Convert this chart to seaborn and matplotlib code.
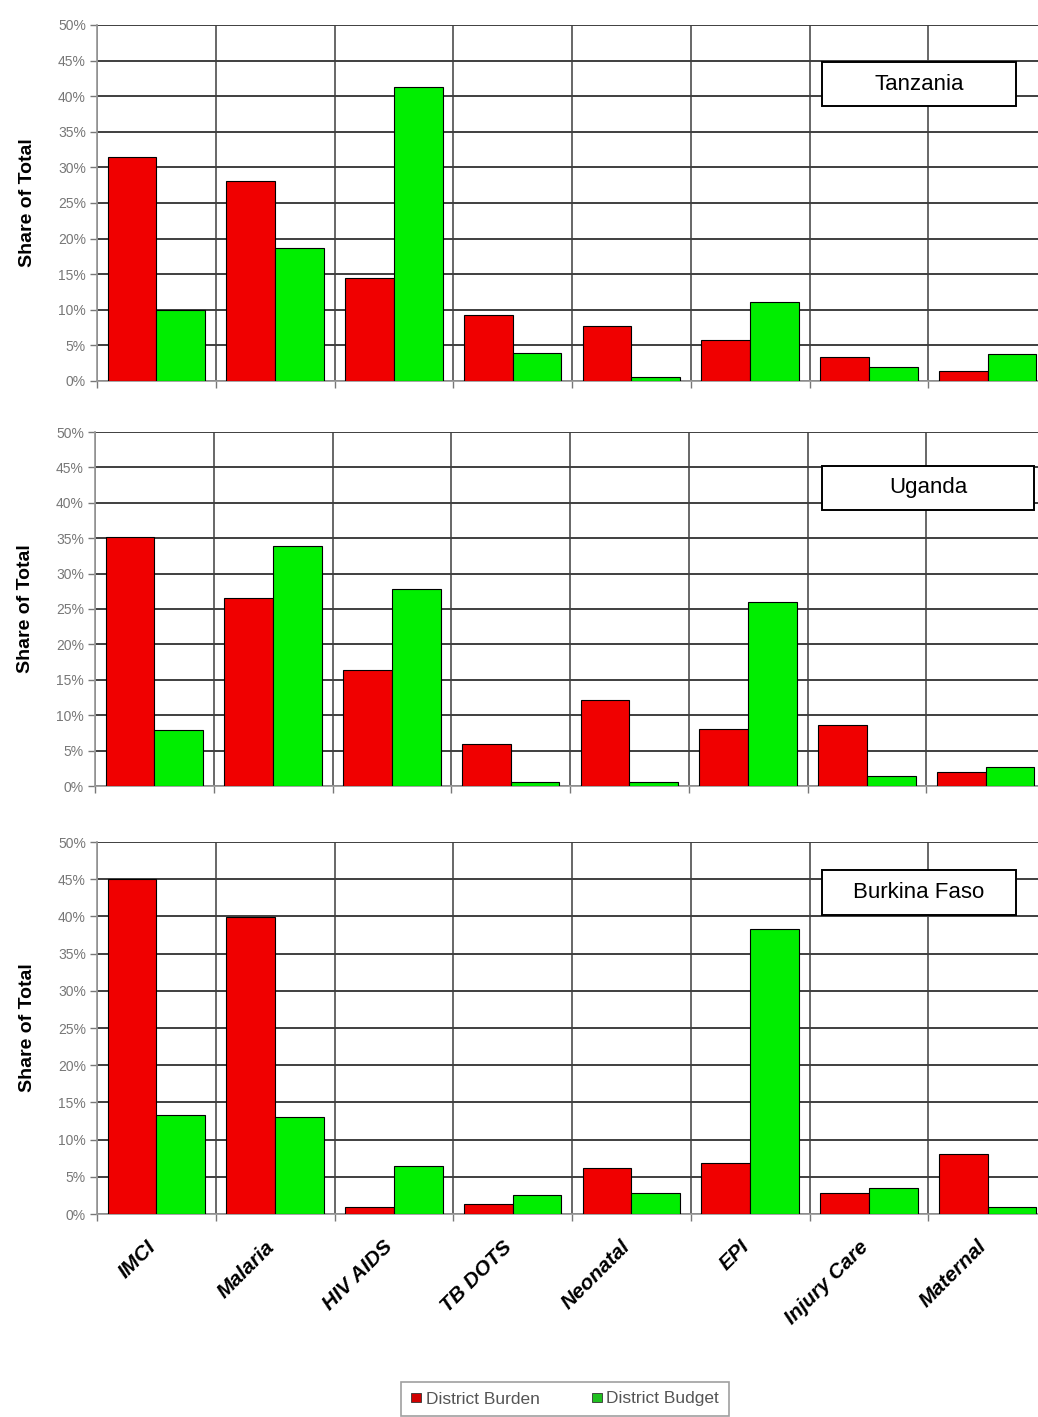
import matplotlib
matplotlib.use("Agg")
import matplotlib.pyplot as plt
from matplotlib.patches import Rectangle, Patch
from matplotlib.ticker import FixedLocator, FuncFormatter
from matplotlib.transforms import ScaledTranslation
import pandas as pd
import seaborn as sns

# Programme areas (x axis)
programmes = ["IMCI", "Malaria", "HIV AIDS", "TB DOTS", "Neonatal", "EPI", "Injury Care", "Maternal"]
series_names = ["District Burden", "District Budget"]

# Share of total (%) per country
tanzania_burden = [31.5, 28.1, 14.4, 9.2, 7.7, 5.7, 3.4, 1.4]
tanzania_budget = [10.0, 18.7, 41.3, 4.0, 0.6, 11.1, 1.9, 3.8]
uganda_burden = [35.2, 26.5, 16.4, 6.0, 12.2, 8.1, 8.6, 2.0]
uganda_budget = [7.9, 33.9, 27.8, 0.6, 0.5, 26.0, 1.4, 2.7]
burkina_burden = [45.0, 39.9, 0.9, 1.3, 6.2, 6.9, 2.8, 8.1]
burkina_budget = [13.3, 13.1, 6.5, 2.5, 2.8, 38.3, 3.5, 1.0]

countries = ["Tanzania", "Uganda", "Burkina Faso"]
country_values = {
    "Tanzania": (tanzania_burden, tanzania_budget),
    "Uganda": (uganda_burden, uganda_budget),
    "Burkina Faso": (burkina_burden, burkina_budget),
}

RED = "#F00000"
GREEN = "#00EE00"
GRID = "#3f3f3f"
TICKTXT = "#777777"

sns.set_theme(style="white")
plt.rcParams["font.family"] = ["Liberation Sans", "DejaVu Sans"]

W, H = 1038, 1417
fig = plt.figure(figsize=(W / 100, H / 100), dpi=100)
fig.patch.set_facecolor("white")

# panel rectangles in pixels: left, top, right, bottom
panel_px = [(97, 25, 1047, 381), (95, 432, 1045, 786), (97, 842, 1047, 1214)]
# country label boxes in pixels: left, top, right, bottom
box_px = [(822, 62, 1016, 106), (822, 466, 1034, 510), (822, 870, 1016, 915)]

for i, (country, (l, t, r, b)) in enumerate(zip(countries, panel_px)):
    ax = fig.add_axes([l / W, 1 - b / H, (r - l) / W, (b - t) / H])
    burden, budget = country_values[country]
    df = pd.DataFrame({
        "programme": programmes * 2,
        "series": [series_names[0]] * len(programmes) + [series_names[1]] * len(programmes),
        "share": list(burden) + list(budget),
    })
    sns.barplot(data=df, x="programme", y="share", hue="series", order=programmes,
                hue_order=series_names, palette=[RED, GREEN], saturation=1,
                width=0.82, gap=0, edgecolor="black", linewidth=0.8,
                legend=False, ax=ax, zorder=3)

    ax.set_xlim(-0.5, len(programmes) - 0.5)
    ax.set_ylim(0, 50)
    ax.yaxis.set_major_locator(FixedLocator(range(0, 51, 5)))
    ax.yaxis.set_major_formatter(FuncFormatter(lambda v, p: f"{v:.0f}%"))
    ax.xaxis.set_minor_locator(FixedLocator([k - 0.5 for k in range(len(programmes) + 1)]))
    ax.set_axisbelow(True)
    ax.grid(True, axis="y", which="major", color=GRID, linewidth=1.4)
    ax.grid(True, axis="x", which="minor", color=GRID, linewidth=1.1)
    ax.grid(False, axis="x", which="major")
    for s in ["top", "right"]:
        ax.spines[s].set_visible(False)
    ax.spines["left"].set_color("#999999")
    ax.spines["bottom"].set_color("#999999")
    ax.tick_params(axis="y", which="major", left=True, length=5, width=1, color="#777777",
                   labelsize=10, labelcolor=TICKTXT, pad=3)
    ax.tick_params(axis="x", which="major", length=0)
    ax.tick_params(axis="x", which="minor", bottom=True, length=5, width=1, color="#777777")
    ax.set_xlabel("")
    ax.set_ylabel("Share of Total", fontsize=14, fontweight="bold", color="black", labelpad=16)

    if i < 2:
        ax.set_xticklabels([])
    else:
        ax.set_xticks(range(len(programmes)))
        ax.set_xticklabels(programmes, rotation=45, ha="right", va="center",
                           rotation_mode="anchor", fontsize=15, fontweight="bold",
                           fontstyle="italic", color="black")
        offset = ScaledTranslation(-0.04, -0.25, fig.dpi_scale_trans)
        for lab in ax.get_xticklabels():
            lab.set_transform(lab.get_transform() + offset)

    bl, bt, br, bb = box_px[i]
    pw, ph = r - l, b - t
    rect = Rectangle(((bl - l) / pw, (b - bb) / ph), (br - bl) / pw, (bb - bt) / ph,
                     transform=ax.transAxes, facecolor="white", edgecolor="black",
                     linewidth=1.4, zorder=5, clip_on=False)
    ax.add_patch(rect)
    ax.text(((bl + min(br, 1034)) / 2 - l) / pw, (b - (bt + bb) / 2) / ph, country,
            transform=ax.transAxes, ha="center", va="center", fontsize=16,
            color="black", zorder=6)

handles = [Patch(facecolor="#D00000", edgecolor="#333333", linewidth=0.6),
           Patch(facecolor="#20C020", edgecolor="#333333", linewidth=0.6)]
leg = fig.legend(handles, series_names, loc="center", bbox_to_anchor=(565 / W, 1 - 1399 / H),
                 ncol=2, frameon=True, fancybox=False, edgecolor="#888888", fontsize=12.5,
                 handlelength=0.6, handleheight=0.45, handletextpad=0.25, columnspacing=3.0,
                 borderpad=0.55, borderaxespad=0)
leg.get_frame().set_linewidth(1.2)
for txt in leg.get_texts():
    txt.set_color("#555555")

fig.savefig("out.png", dpi=100, facecolor="white")
